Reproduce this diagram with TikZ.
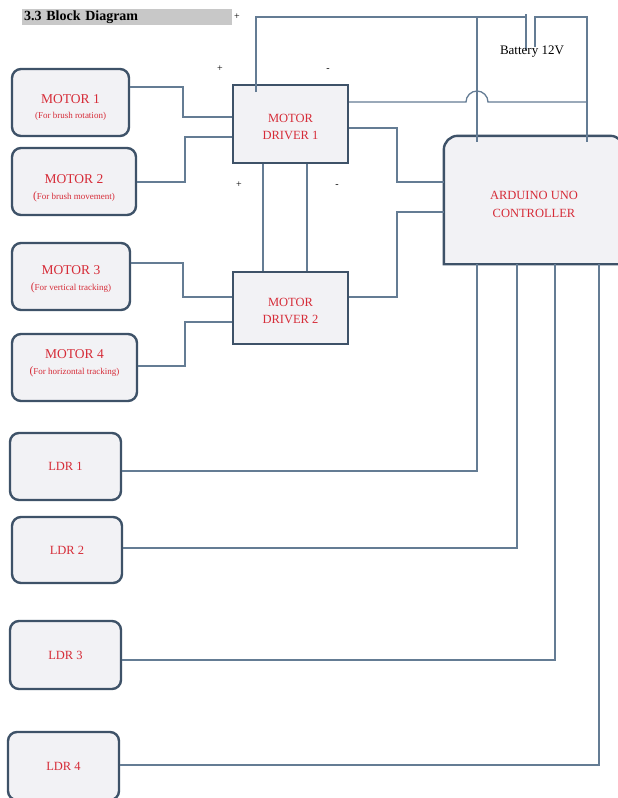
\documentclass[tikz,border=0pt]{standalone}
\usepackage{fontspec}
\setmainfont{Liberation Serif}
\usetikzlibrary{calc}
\definecolor{boxline}{RGB}{62,82,104}
\definecolor{boxfill}{RGB}{242,242,245}
\definecolor{wirec}{RGB}{100,124,148}
\definecolor{txtred}{RGB}{214,44,56}
\definecolor{titlegray}{RGB}{200,200,200}
\newcommand\fsz[2]{\fontsize{#1}{#2}\selectfont}
\begin{document}
\begin{tikzpicture}[x=1pt,y=-1pt,
  motorbox/.style={draw=boxline, line width=2.4pt, fill=boxfill, rounded corners=9pt,
    text=txtred, align=center, inner sep=0pt, minimum height=67pt},
  driverbox/.style={draw=boxline, line width=2.4pt, fill=boxfill, text=txtred,
    align=center, inner sep=0pt, minimum width=115pt},
  boxtext/.style={text=txtred, align=center, inner sep=0pt},
  wire/.style={draw=wirec, line width=1.3pt},
  sign/.style={font=\fsz{10}{12}, inner sep=0pt},
  redtxt/.style={text=txtred, align=center, inner sep=0pt}]
\useasboundingbox (0,0) rectangle (618,798);
\fill[white] (0,0) rectangle (618,798);

% title
\node[fill=titlegray, inner sep=0pt, minimum width=210pt, minimum height=16pt,
  anchor=north west, text width=208pt, align=left, font=\fsz{14}{15}\bfseries] (title) at (22,9) {\hspace*{1pt}3.3 Block Diagram};
\node[sign] (ptop) at (237,17) {+};

% motors
\node[motorbox, minimum width=117pt,
  label={[boxtext, yshift=-4.5pt]center:{\fsz{13.5}{15}MOTOR 1\\[3pt]\fsz{9}{10}(For brush rotation)}}]
  (m1) at (70.5,102.5) {};
\node[motorbox, minimum width=124pt,
  label={[boxtext, yshift=-6.5pt]center:{\fsz{13.5}{15}MOTOR 2\\[4pt]\fsz{9}{10}{\fsz{11.5}{10}(}For brush movement)}}]
  (m2) at (74,181.5) {};
\node[motorbox, minimum width=118pt,
  label={[boxtext, yshift=-2.5pt]center:{\fsz{13.5}{15}MOTOR 3\\[4pt]\fsz{9}{10}{\fsz{11.5}{10}(}For vertical tracking)}}]
  (m3) at (71,276.5) {};
\node[motorbox, minimum width=125pt,
  label={[boxtext, yshift=4.5pt]center:{\fsz{13.5}{15}MOTOR 4\\[4pt]\fsz{9}{10}{\fsz{11.5}{10}(}For horizontal tracking)}}]
  (m4) at (74.5,367.5) {};

% drivers
\node[driverbox, minimum height=78pt,
  label={[boxtext, font=\fsz{12.5}{17}, yshift=-3pt]center:{MOTOR\\DRIVER 1}}] (md1) at (290.5,124) {};
\node[driverbox, minimum height=72pt,
  label={[boxtext, font=\fsz{12.5}{17}, yshift=-3pt]center:{MOTOR\\DRIVER 2}}] (md2) at (290.5,308) {};

% arduino
\node[inner sep=0pt, minimum width=180pt, minimum height=128pt] (ard) at (534,200) {};
\draw[draw=boxline, line width=2.4pt, fill=boxfill]
  (ard.south west) -- ($(ard.north west)+(0,14)$)
  .. controls ($(ard.north west)+(0,6.3)$) and ($(ard.north west)+(6.3,0)$) .. ($(ard.north west)+(14,0)$)
  -- ($(ard.north east)+(-14,0)$)
  .. controls ($(ard.north east)+(-6.3,0)$) and ($(ard.north east)+(0,6.3)$) .. ($(ard.north east)+(0,14)$)
  -- (ard.south east) -- cycle;
\node[redtxt, font=\fsz{12.5}{18}] (ardtxt) at (534,204) {ARDUINO UNO\\CONTROLLER};

% LDRs
\node[motorbox, minimum width=111pt] (l1) at (65.5,466.5) {\fsz{12.5}{14}LDR 1};
\node[motorbox, minimum width=110pt, minimum height=66pt] (l2) at (67,550) {\fsz{12.5}{14}LDR 2};
\node[motorbox, minimum width=111pt, minimum height=68pt] (l3) at (65.5,655) {\fsz{12.5}{14}LDR 3};
\node[motorbox, minimum width=111pt, minimum height=68pt] (l4) at (63.5,766) {\fsz{12.5}{14}LDR 4};

% signs
\node[sign] (p1) at (220,69) {+};
\node[sign] (n1) at (328,70) {-};
\node[sign] (p2) at (239,185) {+};
\node[sign] (n2) at (337,186) {-};

% battery
\coordinate (batL) at (526,17);
\coordinate (batR) at (535,17);
\draw[wire] (526,14) -- (526,50);
\draw[wire] (535,16) -- (535,47);
\node[inner sep=0pt, font=\fsz{13}{15}] (battxt) at (532,52) {Battery 12V};

% wires: motors to drivers
\draw[wire] (m1.east |- 0,87) -| (183,117) -- (md1.west |- 0,117);
\draw[wire] (m2.east |- 0,182) -| (185,137) -- (md1.west |- 0,137);
\draw[wire] (m3.east |- 0,263) -| (183,297) -- (md2.west |- 0,297);
\draw[wire] (m4.east |- 0,366) -| (185,322) -- (md2.west |- 0,322);

% driver to driver
\draw[wire] (md1.south -| 263,0) -- (md2.north -| 263,0);
\draw[wire] (md1.south -| 307,0) -- (md2.north -| 307,0);

% power loop
\draw[wire] (256,92) -- (256,17) -- (batL);
\draw[wire] (batR) -- (587,17) -- (587,142);
\draw[wire] (477,17) -- (477,142);
\draw[wire] (md1.east |- 0,102) -- (466,102) .. controls (466,96) and (471,91) .. (477,91)
  .. controls (483,91) and (488,96) .. (488,102) -- (587,102);

% drivers to arduino
\draw[wire] (md1.east |- 0,128) -| (397,182) -- (ard.west |- 0,182);
\draw[wire] (md2.east |- 0,297) -| (397,212) -- (ard.west |- 0,212);

% arduino to LDRs
\draw[wire] (ard.south -| 477,0) |- (l1.east |- 0,471);
\draw[wire] (ard.south -| 517,0) |- (l2.east |- 0,548);
\draw[wire] (ard.south -| 555,0) |- (l3.east |- 0,660);
\draw[wire] (ard.south -| 599,0) |- (l4.east |- 0,765);
\end{tikzpicture}
\end{document}
